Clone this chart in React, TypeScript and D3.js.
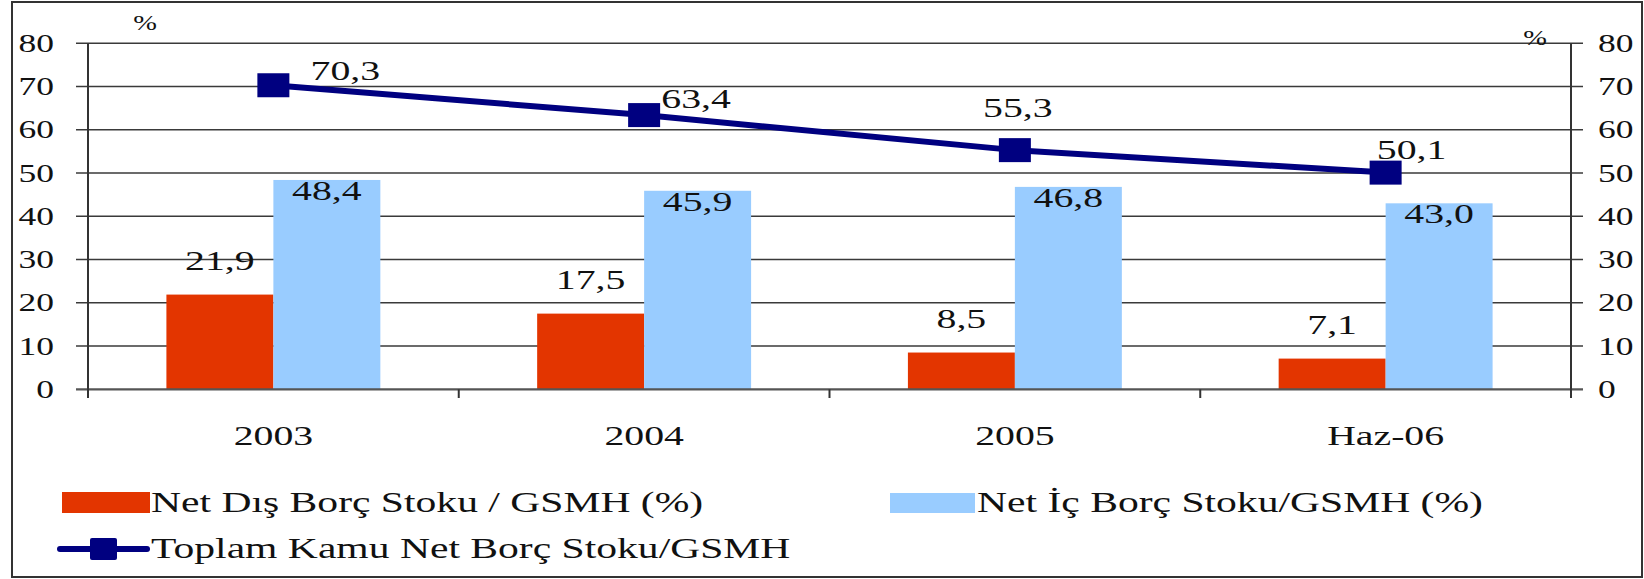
import React from 'react';
import * as d3 from 'd3';

const categories = ['2003', '2004', '2005', 'Haz-06'];
const netDisBorc = [21.9, 17.5, 8.5, 7.1];
const netIcBorc = [48.4, 45.9, 46.8, 43.0];
const toplamKamu = [70.3, 63.4, 55.3, 50.1];
const yTicks = [0, 10, 20, 30, 40, 50, 60, 70, 80];
const seriesNames = [
  'Net Dış Borç Stoku / GSMH (%)',
  'Net İç Borç Stoku/GSMH (%)',
  'Toplam Kamu Net Borç Stoku/GSMH',
];
const unitLabel = '%';

// label placement offsets for the line labels (dx to centre, dy to baseline)
const lineLabelOffsets: [number, number][] = [
  [72, -5],
  [52, -7],
  [3, -33],
  [26, -14],
];

const W = 1644;
const H = 579;
const SX = 1.42;
const FONT = '"Liberation Serif", "Times New Roman", serif';
const RED = '#E33500';
const BLUE = '#99CCFF';
const NAVY = '#000080';

const fmt = (v: number) => v.toFixed(1).replace('.', ',');

function T({ x, y, size, anchor = 'middle', children, fill = '#111' }: any) {
  return (
    <text
      transform={`translate(${x},${y}) scale(${SX},1)`}
      fontFamily={FONT}
      fontSize={size}
      textAnchor={anchor}
      fill={fill}
    >
      {children}
    </text>
  );
}

export default function App() {
  const left = 88;
  const right = 1571;
  const y = d3.scaleLinear().domain([0, 80]).range([389.3, 43.3]);
  const x0 = d3.scaleBand<string>().domain(categories).range([left, right]).padding(0);
  const x1 = d3
    .scaleBand<string>()
    .domain(['dis', 'ic'])
    .range([0, x0.bandwidth()])
    .paddingInner(0)
    .paddingOuter(0.733);
  const cx = (c: string) => (x0(c) as number) + x0.bandwidth() / 2;

  const line = d3
    .line<number>()
    .x((_, i) => cx(categories[i]))
    .y((d) => y(d));

  const boundaries = categories.map((c) => x0(c) as number).concat([right]);

  return (
    <svg
      width={W}
      height={H}
      style={{ position: 'absolute', left: 0, top: 0, display: 'block', background: '#fff' }}
    >
      <rect x={0} y={0} width={W} height={H} fill="#fff" />
      <rect x={12} y={2} width={1630} height={575} fill="none" stroke="#333" strokeWidth={2} />

      {/* gridlines */}
      {yTicks.filter((t) => t > 0).map((t) => (
        <line key={t} x1={76} x2={1583} y1={y(t)} y2={y(t)} stroke="#3a3a3a" strokeWidth={1.5} />
      ))}

      {/* bars */}
      {categories.map((c, i) => (
        <g key={c}>
          <rect
            x={(x0(c) as number) + (x1('dis') as number)}
            y={y(netDisBorc[i])}
            width={x1.bandwidth()}
            height={y(0) - y(netDisBorc[i])}
            fill={RED}
          />
          <rect
            x={(x0(c) as number) + (x1('ic') as number)}
            y={y(netIcBorc[i])}
            width={x1.bandwidth()}
            height={y(0) - y(netIcBorc[i])}
            fill={BLUE}
          />
        </g>
      ))}

      {/* zero line & axes */}
      <line x1={76} x2={1583} y1={y(0)} y2={y(0)} stroke="#555" strokeWidth={2.2} />
      <line x1={left} x2={left} y1={y(80)} y2={398} stroke="#333" strokeWidth={2} />
      <line x1={right} x2={right} y1={y(80)} y2={398} stroke="#333" strokeWidth={2} />
      {boundaries.map((b, i) => (
        <line key={i} x1={b} x2={b} y1={y(0)} y2={398} stroke="#333" strokeWidth={2} />
      ))}

      {/* y tick labels */}
      {yTicks.map((t) => (
        <g key={t}>
          <T x={54} y={y(t) + 8.5} size={25} anchor="end">{t}</T>
          <T x={1598} y={y(t) + 8.5} size={25} anchor="start">{t}</T>
        </g>
      ))}
      <T x={145} y={30} size={20}>{unitLabel}</T>
      <T x={1535} y={45} size={20}>{unitLabel}</T>

      {/* category labels */}
      {categories.map((c) => (
        <T key={c} x={cx(c)} y={445} size={28}>{c}</T>
      ))}

      {/* bar labels */}
      {categories.map((c, i) => (
        <g key={c}>
          <T
            x={(x0(c) as number) + (x1('dis') as number) + x1.bandwidth() / 2}
            y={y(netDisBorc[i]) - 25}
            size={28}
          >
            {fmt(netDisBorc[i])}
          </T>
          <T
            x={(x0(c) as number) + (x1('ic') as number) + x1.bandwidth() / 2}
            y={y(netIcBorc[i]) + 20}
            size={28}
          >
            {fmt(netIcBorc[i])}
          </T>
        </g>
      ))}

      {/* line */}
      <path d={line(toplamKamu) as string} fill="none" stroke={NAVY} strokeWidth={6} />
      {toplamKamu.map((v, i) => (
        <rect key={i} x={cx(categories[i]) - 16} y={y(v) - 12} width={32} height={24} fill={NAVY} />
      ))}
      {toplamKamu.map((v, i) => (
        <T
          key={i}
          x={cx(categories[i]) + lineLabelOffsets[i][0]}
          y={y(v) + lineLabelOffsets[i][1]}
          size={28}
        >
          {fmt(v)}
        </T>
      ))}

      {/* legend */}
      <rect x={62} y={492} width={88} height={21} fill={RED} />
      <T x={151} y={512} size={29.3} anchor="start">{seriesNames[0]}</T>
      <rect x={890} y={493} width={85} height={20} fill={BLUE} />
      <T x={977} y={512} size={29.3} anchor="start">{seriesNames[1]}</T>
      <line x1={60} x2={147} y1={549} y2={549} stroke={NAVY} strokeWidth={6} strokeLinecap="round" />
      <rect x={90} y={538} width={27} height={22} rx={2} fill={NAVY} />
      <T x={151} y={558} size={29.3} anchor="start">{seriesNames[2]}</T>
    </svg>
  );
}
